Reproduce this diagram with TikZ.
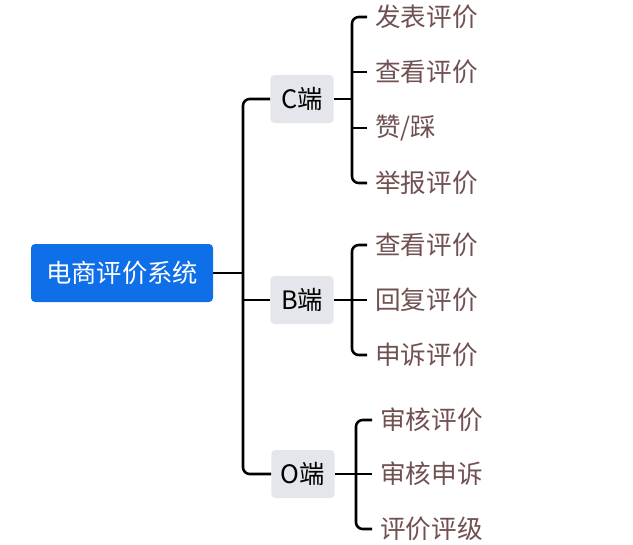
\documentclass[tikz,border=0pt]{standalone}
\usepackage{fontspec}
\usepackage{tikz}
\newfontfamily\cjk{Noto Sans CJK SC}
\definecolor{rootblue}{RGB}{14,111,232}
\definecolor{boxgray}{RGB}{228,230,235}
\definecolor{leafbrown}{RGB}{112,80,80}

\begin{document}
\begin{tikzpicture}[x=0.75pt, y=-0.75pt,
	every node/.style={font=\cjk\fontsize{19}{22}\selectfont},
	root/.style={fill=rootblue, text=white, rounded corners=3pt, minimum width=136.5pt, minimum height=43.5pt},
	side/.style={fill=boxgray, text=black, rounded corners=3pt, minimum width=47.5pt, minimum height=36pt, inner sep=2pt},
	leaf/.style={anchor=west, text=leafbrown, inner xsep=6pt, font=\cjk\fontsize{19.2}{22}\selectfont},
	link/.style={line width=1.9pt, rounded corners=5pt}]
	\useasboundingbox (0,0) rectangle (633,544);

	% root and the three sides
	\node[root] (sys) at (122,273) {电商评价系统};
	\node[side] (C) at (302,99) {C端};
	\node[side] (B) at (302,300) {B端};
	\node[side] (O) at (303,474) {O端};
	\coordinate (trunk) at (243,273);
	\draw[link] (sys.east) -- (trunk);
	\draw[link] (C.west) -| (trunk) |- (O.west);
	\draw[link] (B.west) -- (B.west -| trunk);

	% C side
	\node[leaf] (c1) at (367,17) {发表评价};
	\node[leaf] (c2) at (367,72) {查看评价};
	\node[leaf] (c3) at (367,128) {赞/踩};
	\node[leaf] (c4) at (367,183) {举报评价};
	\coordinate (cb) at (352,99);
	\draw[link] (C.east) -- (cb);
	\draw[link] (c1.west) -| (cb) |- (c4.west);
	\draw[link] (c2.west) -- (c2.west -| cb);
	\draw[link] (c3.west) -- (c3.west -| cb);

	% B side
	\node[leaf] (b1) at (367,245) {查看评价};
	\node[leaf] (b2) at (367,300) {回复评价};
	\node[leaf] (b3) at (367,355) {申诉评价};
	\coordinate (bb) at (352,300);
	\draw[link] (B.east) -- (bb);
	\draw[link] (b1.west) -| (bb) |- (b3.west);
	\draw[link] (b2.west) -- (bb);

	% O side
	\node[leaf] (o1) at (372,420) {审核评价};
	\node[leaf] (o2) at (372,474) {审核申诉};
	\node[leaf] (o3) at (372,529) {评价评级};
	\coordinate (ob) at (356,474);
	\draw[link] (O.east) -- (ob);
	\draw[link] (o1.west) -| (ob) |- (o3.west);
	\draw[link] (o2.west) -- (ob);
\end{tikzpicture}
\end{document}
